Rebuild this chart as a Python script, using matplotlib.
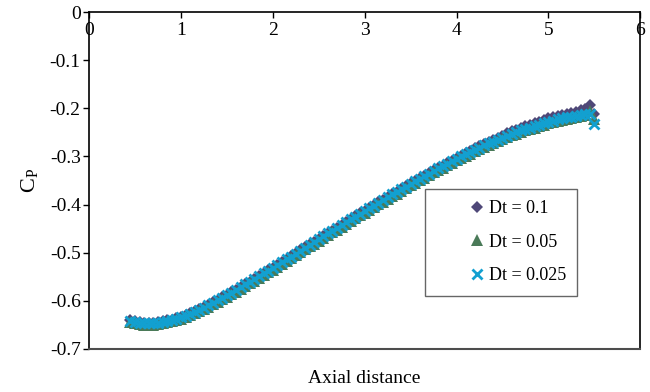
import numpy as np
import matplotlib
matplotlib.use("Agg")
import matplotlib.pyplot as plt

# ------------------------------------------------------------------------------
#   Data
# ------------------------------------------------------------------------------

x_axial = [0.45, 0.50, 0.55, 0.60, 0.65, 0.70, 0.75, 0.80, 0.85, 0.90,
           0.95, 1.00, 1.05, 1.10, 1.15, 1.20, 1.25, 1.30, 1.35, 1.40,
           1.45, 1.50, 1.55, 1.60, 1.65, 1.70, 1.75, 1.80, 1.85, 1.90,
           1.95, 2.00, 2.05, 2.10, 2.15, 2.20, 2.25, 2.30, 2.35, 2.40,
           2.45, 2.50, 2.55, 2.60, 2.65, 2.70, 2.75, 2.80, 2.85, 2.90,
           2.95, 3.00, 3.05, 3.10, 3.15, 3.20, 3.25, 3.30, 3.35, 3.40,
           3.45, 3.50, 3.55, 3.60, 3.65, 3.70, 3.75, 3.80, 3.85, 3.90,
           3.95, 4.00, 4.05, 4.10, 4.15, 4.20, 4.25, 4.30, 4.35, 4.40,
           4.45, 4.50, 4.55, 4.60, 4.65, 4.70, 4.75, 4.80, 4.85, 4.90,
           4.95, 5.00, 5.05, 5.10, 5.15, 5.20, 5.25, 5.30, 5.35, 5.40,
           5.45, 5.50]

cp_dt_0100 = [-0.641, -0.643, -0.645, -0.646, -0.646, -0.646, -0.645, -0.643, -0.641, -0.639,
              -0.636, -0.633, -0.630, -0.626, -0.622, -0.618, -0.613, -0.608, -0.603, -0.598,
              -0.593, -0.588, -0.582, -0.577, -0.571, -0.565, -0.560, -0.554, -0.548, -0.542,
              -0.537, -0.531, -0.525, -0.519, -0.513, -0.507, -0.501, -0.495, -0.489, -0.483,
              -0.477, -0.471, -0.465, -0.459, -0.454, -0.448, -0.442, -0.436, -0.430, -0.424,
              -0.418, -0.413, -0.407, -0.401, -0.395, -0.390, -0.384, -0.378, -0.373, -0.367,
              -0.362, -0.356, -0.351, -0.345, -0.340, -0.335, -0.329, -0.324, -0.319, -0.314,
              -0.309, -0.304, -0.298, -0.293, -0.289, -0.283, -0.279, -0.274, -0.270, -0.265,
              -0.261, -0.257, -0.252, -0.248, -0.245, -0.241, -0.237, -0.234, -0.231, -0.228,
              -0.225, -0.221, -0.219, -0.216, -0.214, -0.211, -0.209, -0.207, -0.204, -0.201,
              -0.194, -0.212]

cp_dt_0050 = [-0.645, -0.647, -0.649, -0.650, -0.650, -0.650, -0.649, -0.647, -0.645, -0.643,
              -0.640, -0.637, -0.634, -0.630, -0.626, -0.622, -0.617, -0.612, -0.607, -0.602,
              -0.597, -0.592, -0.586, -0.581, -0.575, -0.569, -0.564, -0.558, -0.552, -0.546,
              -0.541, -0.535, -0.529, -0.523, -0.517, -0.511, -0.505, -0.499, -0.493, -0.487,
              -0.481, -0.475, -0.469, -0.463, -0.458, -0.452, -0.446, -0.440, -0.434, -0.428,
              -0.422, -0.417, -0.411, -0.405, -0.399, -0.394, -0.388, -0.382, -0.377, -0.371,
              -0.366, -0.360, -0.355, -0.349, -0.344, -0.339, -0.333, -0.328, -0.323, -0.318,
              -0.313, -0.308, -0.303, -0.298, -0.294, -0.289, -0.285, -0.280, -0.276, -0.272,
              -0.268, -0.264, -0.260, -0.256, -0.253, -0.249, -0.246, -0.243, -0.240, -0.237,
              -0.234, -0.231, -0.229, -0.226, -0.224, -0.222, -0.220, -0.218, -0.216, -0.214,
              -0.206, -0.222]

cp_dt_0025 = [-0.642, -0.644, -0.646, -0.647, -0.647, -0.647, -0.646, -0.644, -0.642, -0.640,
              -0.637, -0.634, -0.631, -0.627, -0.623, -0.619, -0.614, -0.609, -0.604, -0.599,
              -0.594, -0.589, -0.583, -0.578, -0.572, -0.566, -0.561, -0.555, -0.549, -0.543,
              -0.538, -0.532, -0.526, -0.520, -0.514, -0.508, -0.502, -0.496, -0.490, -0.484,
              -0.478, -0.472, -0.466, -0.460, -0.455, -0.449, -0.443, -0.437, -0.431, -0.425,
              -0.419, -0.414, -0.408, -0.402, -0.396, -0.391, -0.385, -0.379, -0.374, -0.368,
              -0.363, -0.357, -0.352, -0.346, -0.341, -0.336, -0.330, -0.325, -0.320, -0.315,
              -0.310, -0.305, -0.300, -0.295, -0.291, -0.286, -0.282, -0.277, -0.273, -0.269,
              -0.265, -0.261, -0.257, -0.253, -0.250, -0.246, -0.243, -0.240, -0.237, -0.234,
              -0.231, -0.228, -0.226, -0.223, -0.221, -0.219, -0.217, -0.215, -0.213, -0.211,
              -0.212, -0.232]

labels = ["Dt = 0.1", "Dt = 0.05", "Dt = 0.025"]

x_ticks = [0, 1, 2, 3, 4, 5, 6]
y_ticks = [0, -0.1, -0.2, -0.3, -0.4, -0.5, -0.6, -0.7]

# Colors
c_diamond = "#4f4878"
c_triangle = "#4a7a58"
c_cross = "#12a0d0"

# ------------------------------------------------------------------------------
#   Prepare figure
# ------------------------------------------------------------------------------

plt.rcParams['font.family'] = ['Liberation Serif', 'DejaVu Serif']
plt.rcParams['mathtext.fontset'] = 'custom'
plt.rcParams['mathtext.rm'] = 'Liberation Serif'
plt.rcParams['font.size'] = 14

fig = plt.figure(figsize=(6.5, 3.92), dpi=100)
ax = fig.add_axes([0.137, 0.110, 0.848, 0.859])

ax.plot(x_axial, cp_dt_0100, 'D', color=c_diamond, markersize=6,
        markeredgewidth=0, label=labels[0])
ax.plot(x_axial, cp_dt_0050, '^', color=c_triangle, markersize=8.5,
        markeredgewidth=0, label=labels[1])
ax.plot(x_axial, cp_dt_0025, 'x', color=c_cross, markersize=6.5,
        markeredgewidth=2.0, label=labels[2])

# ------------------------------------------------------------------------------
#   Axes make-up
# ------------------------------------------------------------------------------

ax.set_xlim(0, 6)
ax.set_ylim(-0.7, 0)
ax.set_xticks(x_ticks)
ax.set_xticklabels(["%g" % v for v in x_ticks])
ax.set_yticks(y_ticks)
ax.set_yticklabels(["%g" % v for v in y_ticks])

ax.xaxis.tick_top()
ax.tick_params(axis='x', direction='in', length=4, width=1, pad=-19,
               labelsize=14)
ax.tick_params(axis='y', direction='out', length=4, width=1, pad=2,
               labelsize=14)

for side in ['top', 'left', 'right']:
    ax.spines[side].set_linewidth(1.2)
    ax.spines[side].set_color('black')
ax.spines['bottom'].set_linewidth(1.5)
ax.spines['bottom'].set_color('0.3')

ax.set_ylabel(r"C$_\mathrm{P}$", fontsize=16, labelpad=6)
fig.text(0.561, 0.035, "Axial distance", ha='center', va='center',
         fontsize=14)

leg = ax.legend(loc='upper left', bbox_to_anchor=(0.610, 0.475),
                frameon=True, fancybox=False, borderpad=0.62,
                labelspacing=0.92, handlelength=4.45, handletextpad=-1.55,
                borderaxespad=0, fontsize=13)
leg.get_frame().set_edgecolor('0.25')
leg.get_frame().set_linewidth(1.0)

fig.savefig("out.png", dpi=100)
